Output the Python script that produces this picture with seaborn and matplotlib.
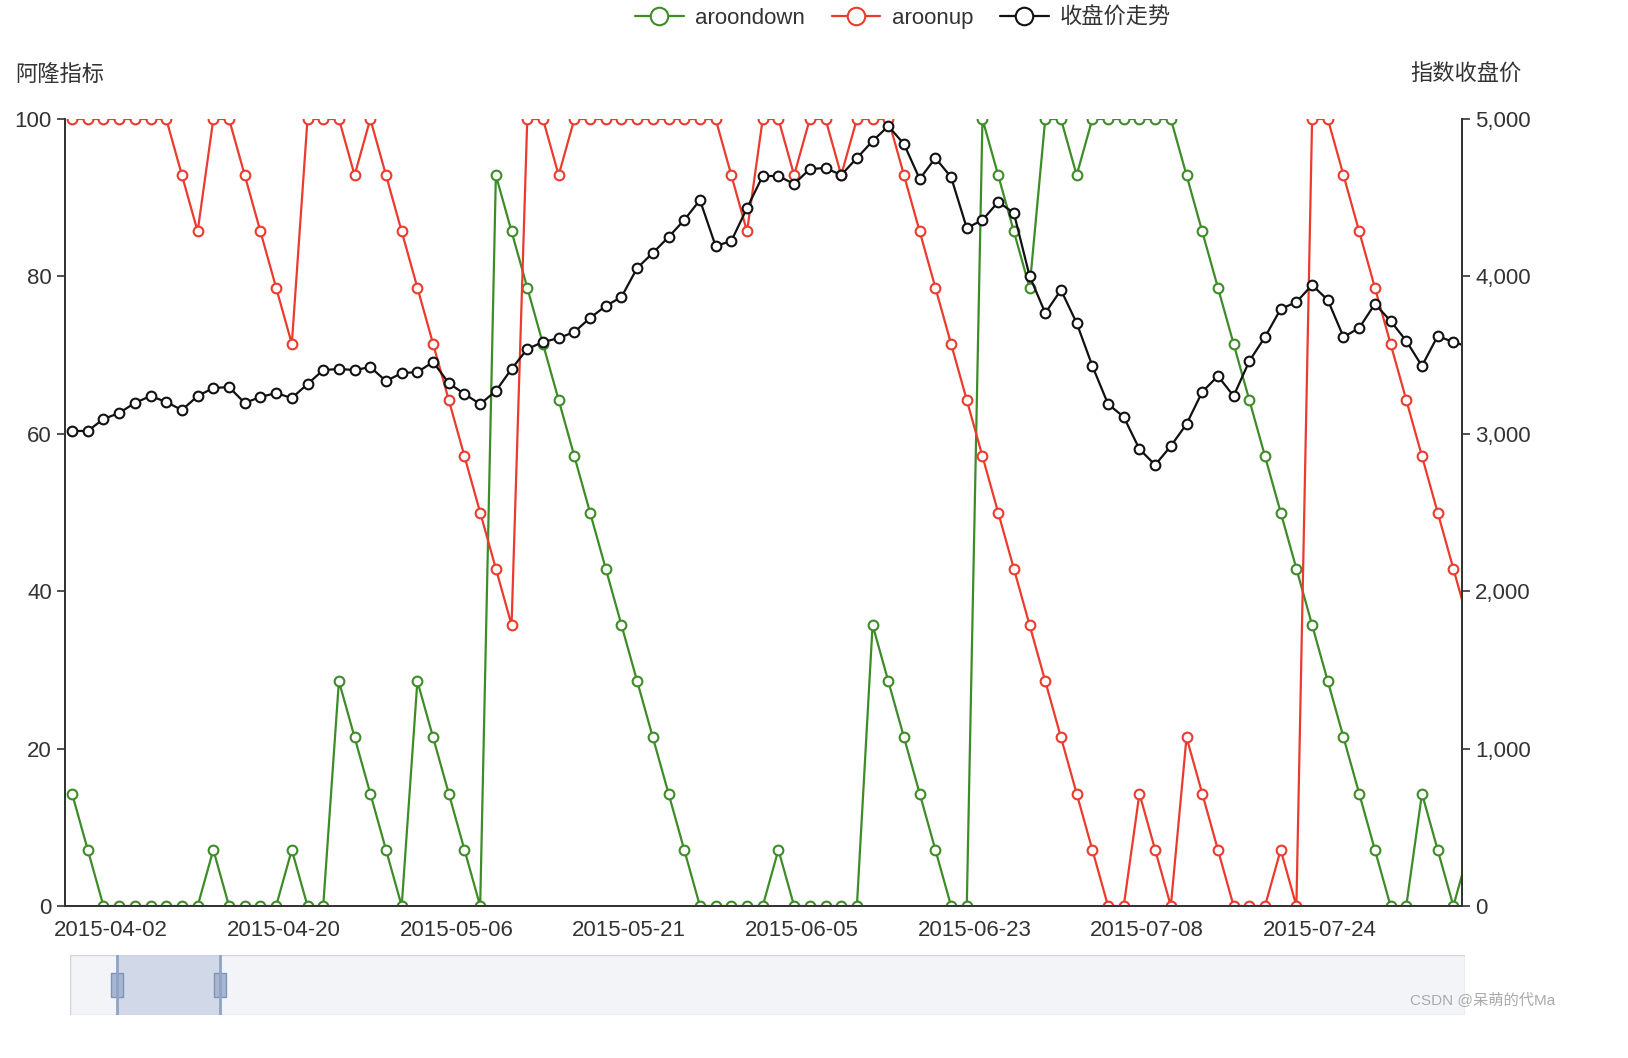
import numpy as np
import pandas as pd
import seaborn as sns
import matplotlib
matplotlib.use("Agg")
import matplotlib.pyplot as plt
from matplotlib.patches import Rectangle

sns.set_style("white")
plt.rcParams['font.family'] = ['Liberation Sans', 'Noto Sans CJK SC', 'DejaVu Sans']

aroonup = [100, 100, 100, 100, 100, 100, 100, 92.86, 85.71, 100,
           100, 92.86, 85.71, 78.57, 71.43, 100, 100, 100, 92.86, 100,
           92.86, 85.71, 78.57, 71.43, 64.29, 57.14, 50, 42.86, 35.71, 100,
           100, 92.86, 100, 100, 100, 100, 100, 100, 100, 100,
           100, 100, 92.86, 85.71, 100, 100, 92.86, 100, 100, 92.86,
           100, 100, 100, 92.86, 85.71, 78.57, 71.43, 64.29, 57.14, 50,
           42.86, 35.71, 28.57, 21.43, 14.29, 7.14, 0, 0, 14.29, 7.14,
           0, 21.43, 14.29, 7.14, 0, 0, 0, 7.14, 0, 100,
           100, 92.86, 85.71, 78.57, 71.43, 64.29, 57.14, 50, 42.86, 35.71]
aroondown = [14.29, 7.14, 0, 0, 0, 0, 0, 0, 0, 7.14,
             0, 0, 0, 0, 7.14, 0, 0, 28.57, 21.43, 14.29,
             7.14, 0, 28.57, 21.43, 14.29, 7.14, 0, 92.86, 85.71, 78.57,
             71.43, 64.29, 57.14, 50, 42.86, 35.71, 28.57, 21.43, 14.29, 7.14,
             0, 0, 0, 0, 0, 7.14, 0, 0, 0, 0,
             0, 35.71, 28.57, 21.43, 14.29, 7.14, 0, 0, 100, 92.86,
             85.71, 78.57, 100, 100, 92.86, 100, 100, 100, 100, 100,
             100, 92.86, 85.71, 78.57, 71.43, 64.29, 57.14, 50, 42.86, 35.71,
             28.57, 21.43, 14.29, 7.14, 0, 0, 14.29, 7.14, 0, 7.14]
close = [3018, 3018, 3094, 3132, 3196, 3240, 3202, 3151, 3240, 3291,
         3297, 3196, 3234, 3259, 3227, 3316, 3405, 3412, 3405, 3424,
         3335, 3386, 3392, 3456, 3322, 3253, 3189, 3272, 3412, 3539,
         3583, 3608, 3647, 3736, 3812, 3869, 4053, 4149, 4250, 4358,
         4485, 4193, 4225, 4434, 4638, 4638, 4587, 4682, 4689, 4644,
         4752, 4860, 4955, 4841, 4619, 4752, 4631, 4307, 4358, 4473,
         4403, 4003, 3767, 3914, 3704, 3431, 3189, 3107, 2903, 2802,
         2922, 3062, 3266, 3367, 3240, 3462, 3615, 3793, 3837, 3945,
         3850, 3615, 3672, 3825, 3717, 3590, 3431, 3621, 3583, 3551]
tick_labels = ["2015-04-02", "2015-04-20", "2015-05-06", "2015-05-21",
               "2015-06-05", "2015-06-23", "2015-07-08", "2015-07-24"]

idx = np.arange(len(close))
df = pd.DataFrame({"i": idx, "aroondown": aroondown, "aroonup": aroonup, "close": close})

W, H = 1628, 1058
fig = plt.figure(figsize=(W / 100, H / 100), dpi=100)
ax = fig.add_axes([65 / W, 1 - 906 / H, (1462 - 65) / W, (906 - 119) / H])
ax2 = ax.twinx()

green, red, black = "#3d8c27", "#ea3b2e", "#111111"
mk = dict(marker="o", markersize=7, markerfacecolor="white", markeredgewidth=1.5, linewidth=1.6)
sns.lineplot(data=df, x="i", y="aroondown", ax=ax, color=green, markeredgecolor=green, label="aroondown", legend=False, **mk)
sns.lineplot(data=df, x="i", y="aroonup", ax=ax, color=red, markeredgecolor=red, label="aroonup", legend=False, **mk)
sns.lineplot(data=df, x="i", y="close", ax=ax2, color=black, markeredgecolor=black, label="收盘价走势", legend=False, **mk)

ax.set_xlim(-0.45, 88.55)
ax.set_ylim(0, 100)
ax2.set_ylim(0, 5000)
for a in (ax, ax2):
    a.set_xlabel("")
    a.set_ylabel("")
    for s in a.spines.values():
        s.set_color("#333333")
        s.set_linewidth(1.3)
    a.spines["top"].set_visible(False)
ax.set_yticks([0, 20, 40, 60, 80, 100])
ax2.set_yticks([0, 1000, 2000, 3000, 4000, 5000])
ax2.set_yticklabels([f"{v:,}" for v in [0, 1000, 2000, 3000, 4000, 5000]])
ax.set_xticks([2.5 + 11 * k for k in range(len(tick_labels))])
ax.set_xticklabels(tick_labels)
ax.tick_params(axis="both", direction="out", length=6, width=1.2, color="#333333", labelsize=16, labelcolor="#333333")
ax2.tick_params(axis="y", direction="out", length=6, width=1.2, color="#333333", labelsize=16, labelcolor="#333333")
ax.tick_params(axis="x", pad=4)

fig.text(15 / W, 1 - 75 / H, "阿隆指标", fontsize=16, color="#333333", ha="left", va="center")
fig.text(1522 / W, 1 - 75 / H, "指数收盘价", fontsize=16, color="#333333", ha="right", va="center")

h1, l1 = ax.get_legend_handles_labels()
h2, l2 = ax2.get_legend_handles_labels()
fig.legend(h1 + h2, l1 + l2, loc="center", bbox_to_anchor=(903 / W, 1 - 18 / H), ncol=3, frameon=False,
           fontsize=16, handlelength=2.2, columnspacing=1.2, handletextpad=0.5, markerscale=1.8,
           labelcolor="#333333")

# data zoom slider
sax = fig.add_axes([70 / W, 1 - 1015 / H, (1465 - 70) / W, 60 / H])
sax.set_xlim(0, 1); sax.set_ylim(0, 1)
sax.axis("off")
sax.add_patch(Rectangle((0, 0), 1, 1, facecolor="#f3f4f7", edgecolor="#d0d3da", linewidth=1))
lo, hi = (117 - 70) / 1395, (220 - 70) / 1395
sax.add_patch(Rectangle((lo, 0), hi - lo, 1, facecolor="#c9d1e3", alpha=0.8, edgecolor="none"))
for p in (lo, hi):
    sax.plot([p, p], [0, 1], color="#8fa3c7", lw=2)
    sax.add_patch(Rectangle((p - 0.004, 0.3), 0.008, 0.4, facecolor="#a9b6d0", edgecolor="#7f93b8", lw=1))

fig.text(1555 / W, 1 - 1000 / H, "CSDN @呆萌的代Ma", fontsize=11, color="#aaaaaa", ha="right", va="center")

fig.savefig("out.png", dpi=100)
